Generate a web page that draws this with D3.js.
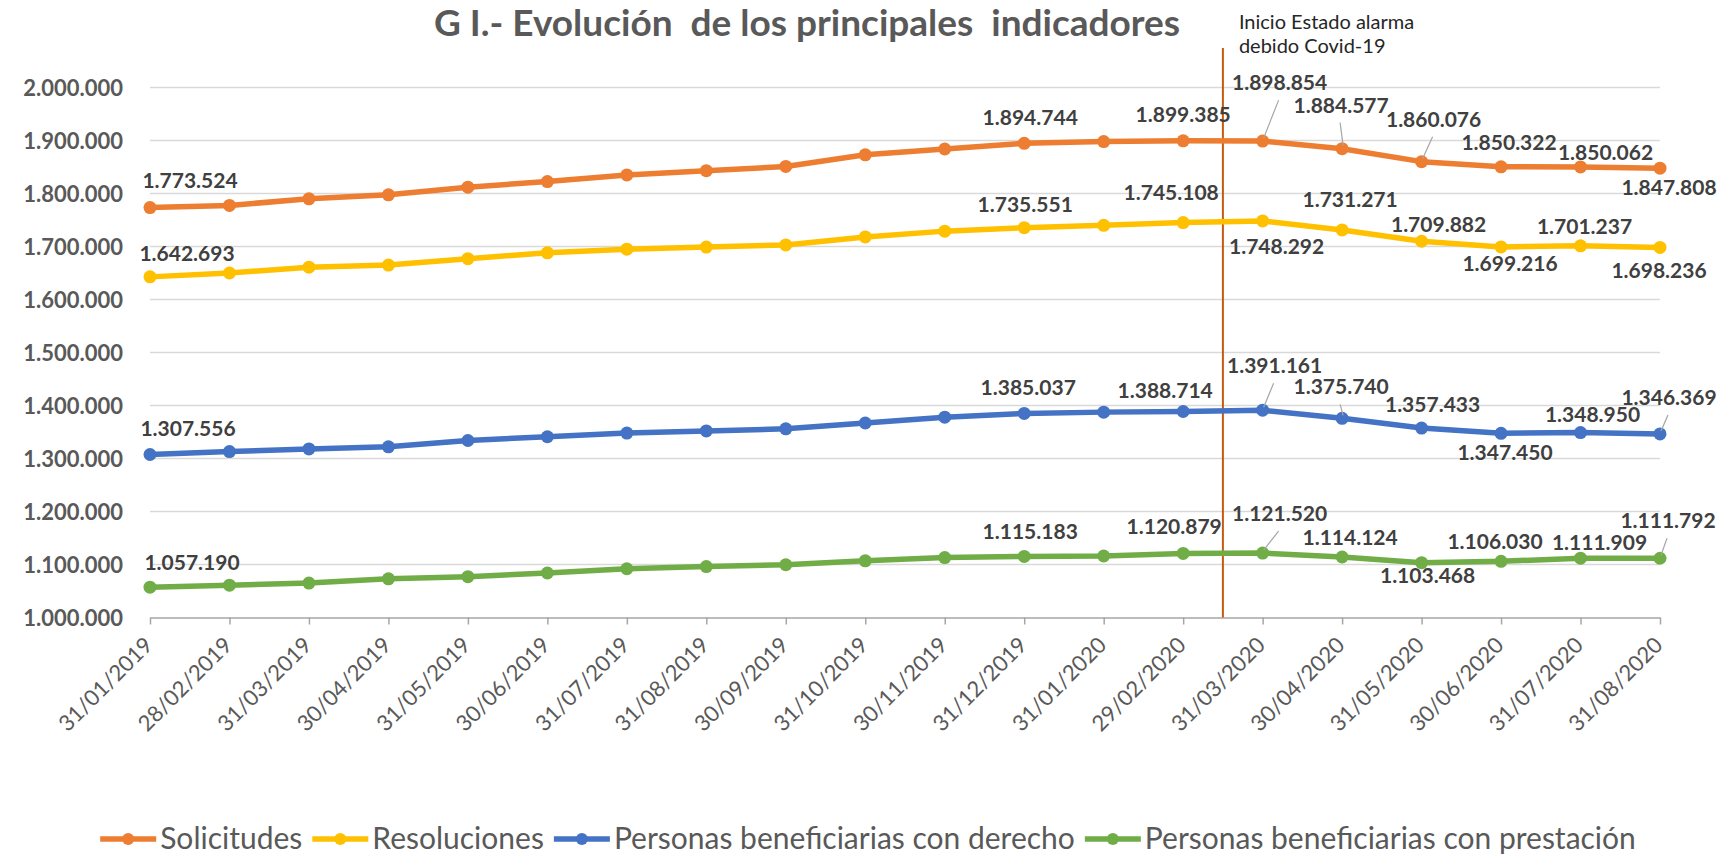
<!DOCTYPE html>
<html>
<head>
<meta charset="utf-8">
<script src="https://cdn.jsdelivr.net/npm/d3@7/dist/d3.min.js"></script>
<style>
  body { margin: 0; background: #fff; }
  svg { display: block; font-family: Lato, "Open Sans", sans-serif; }
</style>
</head>
<body>
<svg id="chart" width="1720" height="855"></svg>
<script>
// datos
const fechas = ["31/01/2019", "28/02/2019", "31/03/2019", "30/04/2019", "31/05/2019", "30/06/2019",
  "31/07/2019", "31/08/2019", "30/09/2019", "31/10/2019", "30/11/2019", "31/12/2019",
  "31/01/2020", "29/02/2020", "31/03/2020", "30/04/2020", "31/05/2020", "30/06/2020",
  "31/07/2020", "31/08/2020"];

const solicitudes = [1773524, 1777500, 1790000, 1797500, 1812000, 1822500, 1835000, 1843000, 1851000, 1873000,
  1884000, 1894744, 1898000, 1899385, 1898854, 1884577, 1860076, 1850322, 1850062, 1847808];
const resoluciones = [1642693, 1650000, 1661000, 1665000, 1677000, 1688000, 1695000, 1699000, 1703000, 1718000,
  1729000, 1735551, 1740000, 1745108, 1748292, 1731271, 1709882, 1699216, 1701237, 1698236];
const conDerecho = [1307556, 1313000, 1318000, 1322000, 1334000, 1341000, 1348000, 1352000, 1356000, 1367000,
  1378000, 1385037, 1387500, 1388714, 1391161, 1375740, 1357433, 1347450, 1348950, 1346369];
const conPrestacion = [1057190, 1061000, 1065000, 1073000, 1077000, 1084000, 1092000, 1096000, 1099500, 1107000,
  1113000, 1115183, 1116000, 1120879, 1121520, 1114124, 1103468, 1106030, 1111909, 1111792];

const nombres = ["Solicitudes", "Resoluciones", "Personas beneficiarias con derecho", "Personas beneficiarias con prestación"];
const colores = ["#ED7D31", "#FFC000", "#4472C4", "#70AD47"];
const yTicks = [1000000, 1100000, 1200000, 1300000, 1400000, 1500000, 1600000, 1700000, 1800000, 1900000, 2000000];

// meses con etiqueta de dato
const conEtiqueta = [0, 11, 13, 14, 15, 16, 17, 18, 19];
const titulo = "G I.- Evolución  de los principales  indicadores";
const nota = ["Inicio Estado alarma", "debido Covid-19"];
const covidEntre = ["29/02/2020", "31/03/2020"];

// desplazamiento de cada etiqueta respecto a su punto (px), por serie y en el orden de conEtiqueta
const despl = [
  [[40, -27], [6, -25], [0, -26], [17, -58], [-1, -43], [12, -42], [8, -24], [25, -14], [9, 20]],
  [[37, -23], [1, -23], [-12, -30], [14, 26], [8, -30], [17, -16], [9, 17], [4, -19], [-1, 24]],
  [[38, -25], [4, -25], [-18, -20], [12, -44], [-1, -31], [11, -23], [4, 20], [12, -18], [9, -36]],
  [[42, -24], [6, -24], [-9, -26], [17, -39], [8, -19], [6, 13], [-6, -19], [19, -15], [8, -37]]
];
// etiquetas con linea guia
const guias = [[14, 15, 16], [], [14, 15, 19], [14, 19]];

const valores = [solicitudes, resoluciones, conDerecho, conPrestacion];

const es = d3.formatLocale({ decimal: ",", thousands: ".", grouping: [3], currency: ["", " €"] });
const fmt = es.format(",d");

const svg = d3.select("#chart");

const x = d3.scalePoint().domain(fechas).range([150, 1660]);
const y = d3.scaleLinear().domain([1000000, 2000000]).range([617.5, 87.5]);

// titulo
svg.append("text")
  .attr("x", 807).attr("y", 36)
  .attr("text-anchor", "middle")
  .style("white-space", "pre")
  .style("font-size", "37px").style("font-weight", "bold")
  .attr("fill", "#595959")
  .text(titulo);

// rejilla y eje Y
svg.append("g")
  .selectAll("line")
  .data(yTicks.slice(1))
  .enter()
  .append("line")
  .attr("x1", 150).attr("x2", 1660)
  .attr("y1", d => y(d)).attr("y2", d => y(d))
  .attr("stroke", "#d9d9d9").attr("stroke-width", 1.5);

svg.append("g")
  .selectAll("text")
  .data(yTicks)
  .enter()
  .append("text")
  .attr("x", 123).attr("y", d => y(d) + 8)
  .attr("text-anchor", "end")
  .style("font-size", "22px").style("font-weight", "bold")
  .attr("fill", "#595959")
  .text(d => fmt(d));

// eje X
const ejeX = svg.append("g")
  .attr("transform", "translate(0," + y(1000000) + ")")
  .call(d3.axisBottom(x).tickSize(7).tickSizeOuter(0).tickFormat(""));
ejeX.select(".domain").attr("stroke", "#a6a6a6").attr("stroke-width", 1.5);
ejeX.selectAll(".tick line").attr("stroke", "#a6a6a6").attr("stroke-width", 1.5);

svg.append("g")
  .selectAll("text")
  .data(fechas)
  .enter()
  .append("text")
  .attr("transform", d => "translate(" + (x(d) + 4) + "," + (y(1000000) + 29) + ") rotate(-45)")
  .attr("text-anchor", "end")
  .style("font-size", "22px")
  .attr("fill", "#595959")
  .text(d => d);

// linea inicio estado de alarma
const xCovid = (x(covidEntre[0]) + x(covidEntre[1])) / 2;
svg.append("line")
  .attr("x1", xCovid).attr("x2", xCovid)
  .attr("y1", 48).attr("y2", y(1000000))
  .attr("stroke", "#C55A11").attr("stroke-width", 2);

svg.append("g")
  .selectAll("text")
  .data(nota)
  .enter()
  .append("text")
  .attr("x", xCovid + 16).attr("y", (d, i) => 29 + i * 24)
  .style("font-size", "20px")
  .attr("fill", "#262626")
  .text(d => d);

// series
const linea = d3.line().x((d, i) => x(fechas[i])).y(d => y(d));

valores.forEach((serie, s) => {
  const g = svg.append("g");
  g.append("path")
    .datum(serie)
    .attr("d", linea)
    .attr("fill", "none")
    .attr("stroke", colores[s])
    .attr("stroke-width", 5.5)
    .attr("stroke-linejoin", "round");

  g.selectAll("circle")
    .data(serie)
    .enter()
    .append("circle")
    .attr("cx", (d, i) => x(fechas[i]))
    .attr("cy", d => y(d))
    .attr("r", 6.5)
    .attr("fill", colores[s]);
});

// etiquetas de datos
valores.forEach((serie, s) => {
  const items = conEtiqueta.map((idx, k) => ({
    idx: idx,
    v: serie[idx],
    px: x(fechas[idx]),
    py: y(serie[idx]),
    lx: x(fechas[idx]) + despl[s][k][0],
    ly: y(serie[idx]) + despl[s][k][1]
  }));

  svg.append("g")
    .selectAll("line")
    .data(items.filter(d => guias[s].includes(d.idx)))
    .enter()
    .append("line")
    .attr("x1", d => d.lx - 1).attr("y1", d => d.ly + 17)
    .attr("x2", d => d.px + 1).attr("y2", d => d.py - 3)
    .attr("stroke", "#a6a6a6").attr("stroke-width", 1.2);

  svg.append("g")
    .selectAll("text")
    .data(items)
    .enter()
    .append("text")
    .attr("x", d => d.lx).attr("y", d => d.ly + 7)
    .attr("text-anchor", "middle")
    .style("font-size", "21px").style("font-weight", "bold")
    .attr("fill", "#404040")
    .text(d => fmt(d.v));
});

// leyenda
const leyenda = svg.append("g").attr("transform", "translate(0,839)");
let cursor = 0;
const piezas = [];
nombres.forEach((n, i) => {
  const item = leyenda.append("g");
  item.append("line")
    .attr("x1", 0).attr("x2", 56)
    .attr("stroke", colores[i]).attr("stroke-width", 5.5);
  item.append("circle").attr("cx", 28).attr("r", 6).attr("fill", colores[i]);
  const t = item.append("text")
    .attr("x", 60).attr("y", 10)
    .style("font-size", "30px")
    .attr("fill", "#595959")
    .text(n);
  piezas.push({ item: item, start: cursor });
  cursor += 60 + t.node().getComputedTextLength() + 10;
});
const ancho = cursor - 10;
const inicio = 868 - ancho / 2;
piezas.forEach(p => p.item.attr("transform", "translate(" + (inicio + p.start) + ",0)"));
</script>
</body>
</html>
